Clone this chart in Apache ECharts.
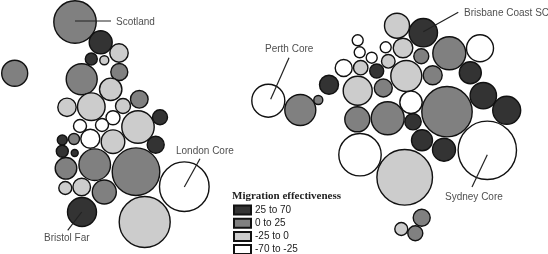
<!DOCTYPE html>
<html><head><meta charset="utf-8">
<style>html,body{margin:0;padding:0;background:#fff}#c{width:548px;height:254px}</style>
<script src="https://cdn.jsdelivr.net/npm/echarts@6/dist/echarts.min.js"></script>
</head><body><div id="c"></div>
<script>
// [map x, map y, radius]
const high = [
 [100.7,42.3,12],[91.3,59,6.5],[160,117.3,8],[155.7,144.7,9],[62.3,140,5.5],[62.3,151.3,6.5],[74.7,153,4],[82,212,15],
 [423.3,32.7,14.7],[376.7,71,7.5],[470.3,72.7,11.5],[329,84.7,10],[483.3,95.7,13.7],[506.7,110.3,14.5],[413,121.7,8.7],[422,140.3,11],[444,149.7,12]
];
const mid = [
 [75,22,21.7],[119.3,72,9],[14.7,73.3,13.5],[81.7,79.3,16],[139.3,99.3,9.3],[74,139,6],[66,168.3,11.3],[94.7,164.7,16.3],[136,171.7,24.3],[104.3,192,12.5],
 [421.3,56.3,8],[449.3,53.3,17],[432.7,75.3,10],[383.3,88,9.5],[318.3,100,5],[300.3,110,16],[447,111.7,25.7],[357.3,119.3,13],[387.7,118.3,17],[421.7,217.7,9],[415.3,233.3,8]
];
const low = [
 [119,53,9.7],[104.3,60.3,5],[110.7,89.3,11.7],[67,107.3,9.7],[91.3,106.7,14.3],[123,106,8],[138,127,16.7],[113,141.7,12.3],[65.3,188,7],[81.7,187,9.3],[144.7,222,26],
 [397,25.7,13],[403,48,10.3],[388.3,61.3,7.3],[360.7,67.7,7.7],[406.3,76,16],[357.7,90.7,15],[404.7,177.3,28.3],[401.3,229,7]
];
const lowest = [
 [113,117.7,7.5],[80,126,7],[102,125,7],[90.3,138.7,10],[184.3,186.7,25.3],
 [357.7,40.3,6],[385.7,47.3,6],[359.7,52.3,6],[480,48.3,14],[371.7,57.7,6],[343.7,68,9],[411,102.3,11.7],[268.3,100.7,17],[487.3,150.3,29.7],[360,154.7,21.7]
];
const classNames = ['25 to 70','0 to 25','-25 to 0','-70 to -25'];
const classColors = ['#333333','#808080','#cccccc','#ffffff'];
const classData = [high, mid, low, lowest];
const leaders = [
 [[75,21],[111,21]],
 [[289,57.7],[270.7,99.3]],
 [[458.3,12.3],[423.3,31.7]],
 [[200,158.7],[184.3,187]],
 [[81.7,212],[67.7,230.3]],
 [[487.3,154.7],[472,187]]
];
const places = [
 [116,22,'Scotland'],[265,49,'Perth Core'],[464,13,'Brisbane Coast SC'],[176,151,'London Core'],[44,238,'Bristol Far'],[445,197,'Sydney Core']
];
const legendTitle = 'Migration effectiveness';
const font = '"Liberation Sans", Arial, sans-serif';

const chart = echarts.init(document.getElementById('c'), null, {renderer:'canvas'});
const series = classNames.map((n,i)=>({
  name:n, type:'scatter', data:classData[i], silent:true, animation:false, z:2,
  symbolSize:d=>d[2]*2-1,
  itemStyle:{color:classColors[i],borderColor:'#111',borderWidth:1.4,opacity:1}
}));
leaders.forEach(l=>series.push({type:'line',data:l,symbol:'none',silent:true,animation:false,z:3,
  lineStyle:{color:'#222',width:1.2}}));
series.push({type:'scatter',data:places,symbolSize:0,silent:true,animation:false,z:4,
  label:{show:true,position:'inside',align:'left',verticalAlign:'middle',formatter:p=>p.data[2],
    color:'#222',fontFamily:font,fontSize:10,offset:[0,0]}});
chart.setOption({
  animation:false,
  backgroundColor:'#fff',
  grid:{left:0,right:0,top:0,bottom:0},
  xAxis:{type:'value',min:0,max:548,show:false},
  yAxis:{type:'value',min:0,max:254,inverse:true,show:false},
  title:{text:legendTitle,left:232,top:191,padding:0,
    textStyle:{fontFamily:'"Liberation Serif", serif',fontWeight:'bold',fontSize:11,color:'#222'}},
  legend:{data:classNames,orient:'vertical',left:233,top:204.5,height:120,padding:0,itemWidth:17,itemHeight:9,itemGap:2.2,
    selectedMode:false,icon:'rect',
    textStyle:{fontFamily:font,fontSize:10,color:'#222',lineHeight:11,padding:[0,0,0,-1]}},
  series
});
</script></body></html>
